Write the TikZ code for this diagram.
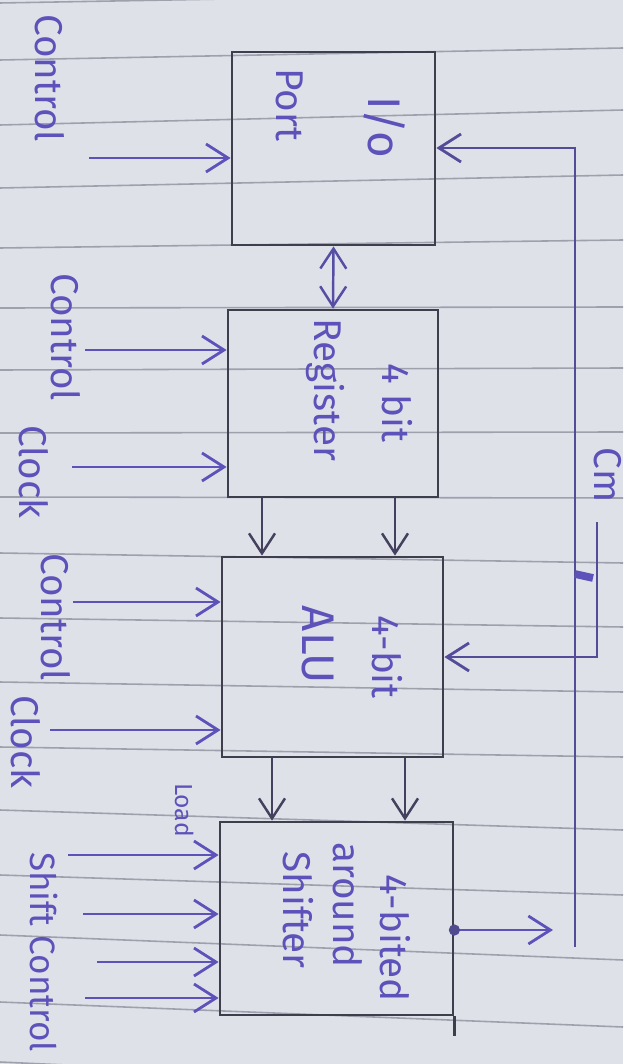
\documentclass[tikz,border=0pt]{standalone}
\usepackage{fontspec}
\setsansfont{Fira Sans}
\usetikzlibrary{arrows.meta,positioning,calc}
\definecolor{paper}{RGB}{223,225,233}
\definecolor{rulegray}{RGB}{158,160,172}
\definecolor{ink}{RGB}{92,82,186}
\definecolor{pencil}{RGB}{62,62,76}
\tikzset{box/.style={draw=pencil,line width=.75pt,inner sep=0pt},lbl/.style={font=\sffamily\fontsize{11}{13}\selectfont,text=ink,rotate=-90,inner sep=0pt},inarr/.style={-{Straight Barb[length=2.2mm,width=2.8mm]},draw=ink,line width=.8pt}}

\begin{document}
\begin{tikzpicture}[x=0.01cm,y=-0.01cm,
darr/.style={-{Straight Barb[length=2mm,width=2.6mm]},draw=pencil!85!ink,line width=.7pt},
bus/.style={draw=ink!70!pencil,line width=.8pt},
ruled/.style={draw=rulegray,line width=.45pt},
smalllbl/.style={lbl,font=\sffamily\fontsize{7}{8}\selectfont}]
\useasboundingbox (0,0) rectangle (623,1064);
\fill[paper] (0,0) rectangle (623,1064);
\foreach \l/\r in {3/-8,60/48,125/110,188/175,248/240,308/307,370/368,433/432,497/498,553/563,618/627,682/692,747/757,810/830,875/895,935/960,1002/1027,1062/1090}{\draw[ruled] (0,\l)--(623,\r);}
% blocks
\node[box,minimum width=2.03cm,minimum height=1.93cm] (io) at (333.5,148.5) {};
\node[box,minimum width=2.10cm,minimum height=1.87cm] (reg) at (333,403.5) {};
\node[box,minimum width=2.21cm,minimum height=2.00cm] (alu) at (332.5,657) {};
\node[box,minimum width=2.33cm,minimum height=1.93cm] (shf) at (336.5,918.5) {};
\draw[box] (shf.south east)--++(0,20);
\node[lbl,font=\sffamily\fontsize{13}{15}\selectfont] (iot) at (385,127) {I/o};\node[lbl] (iop) at (290,105) {Port};
\node[lbl] (regt) at (397,403) {4 bit};\node[lbl] (regr) at (325,390) {Register};
\node[lbl] (alut) at (387,657) {4-bit};\node[lbl,font=\sffamily\fontsize{13}{15}\selectfont] (alua) at (318,645) {ALU};
\node[lbl] (shft) at (395,938) {4-bited};\node[lbl] (shfa) at (348,905) {around};\node[lbl] (shfs) at (298,910) {Shifter};
% inputs
\node[lbl] (ctla) at (50,78) {Control};\node[lbl] (ctlb) at (66,337) {Control};\node[lbl] (clka) at (34,472) {Clock};
\node[lbl] (ctlc) at (56,617) {Control};\node[lbl] (clkb) at (26,742) {Clock};
\node[smalllbl] (load) at (185,810) {Load};\node[lbl,font=\sffamily\fontsize{10}{12}\selectfont] (shc) at (44,952) {Shift Control};
\node[lbl] (cm) at (608,475) {Cm};
\coordinate (ia) at (89,158);\coordinate (ib) at (85,350);\coordinate (ic) at (72,467);
\coordinate (id) at (73,602);\coordinate (ie) at (50,730);
\draw[inarr] (ia)--(ia -| io.west);\draw[inarr] (ib)--(ib -| reg.west);\draw[inarr] (ic)--(ic -| reg.west);
\draw[inarr] (id)--(id -| alu.west);\draw[inarr] (ie)--(ie -| alu.west);
\foreach \i/\x/\y in {1/68/855,2/83/914,3/97/962,4/85/998}{\coordinate (sh\i) at (\x,\y);\draw[inarr] (sh\i)--(sh\i -| shf.west);}
% data paths
\draw[{Straight Barb[length=2mm,width=2.6mm]}-{Straight Barb[length=2mm,width=2.6mm]},draw=ink!80!pencil,line width=.7pt] (io.south)--(reg.north);
\foreach \dx in {-71,62}{\draw[darr] ($(reg.south)+(\dx,0)$) coordinate (t)--(t |- alu.north);}
\foreach \dx in {-60.5,72.5}{\draw[darr] ($(alu.south)+(\dx,0)$) coordinate (t)--(t |- shf.north);}
\coordinate (busbot) at (575,947);\coordinate (bustop) at (575,148);
\draw[bus,-{Straight Barb[length=2.2mm,width=2.8mm]}] (busbot)--(bustop)--(bustop -| io.east);
\coordinate (fbtop) at (597,522);\coordinate (fbbot) at (597,657);
\draw[bus,-{Straight Barb[length=2.2mm,width=2.8mm]}] (fbtop)--(fbbot)--(fbbot -| alu.east);
\draw[ink,line width=2.2pt] (575,574)--(593,578);
\coordinate (out) at (553,930);
\draw[inarr] (shf.east |- out)--(out);\fill[ink!60!pencil] (shf.east |- out) circle (1.6pt);
\end{tikzpicture}
\end{document}
